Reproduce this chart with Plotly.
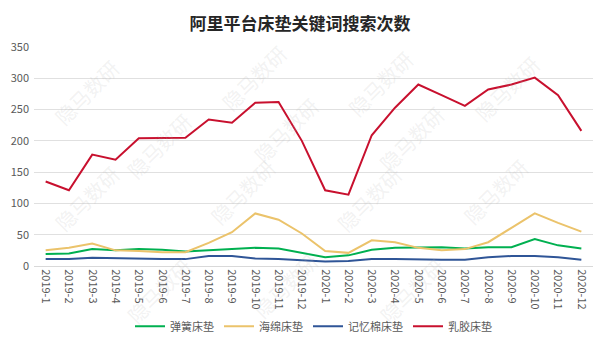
import plotly.graph_objects as go

months = ["2019-1","2019-2","2019-3","2019-4","2019-5","2019-6","2019-7","2019-8","2019-9","2019-10","2019-11","2019-12",
          "2020-1","2020-2","2020-3","2020-4","2020-5","2020-6","2020-7","2020-8","2020-9","2020-10","2020-11","2020-12"]
spring = [19, 20, 27, 25, 27, 26, 23, 25, 26, 29, 28, 21,
          14, 17, 26, 29, 29, 30, 28, 30, 30, 43, 33, 28]
sponge = [25, 29, 36, 25, 24, 22, 22, 37, 54, 84, 74, 52,
          24, 21, 41, 38, 29, 25, 27, 38, 61, 84, 69, 55]
memory = [11, 11, 13, 12, 12, 11, 11, 16, 16, 12, 11, 9,
          7, 8, 11, 11, 10, 10, 10, 14, 16, 16, 14, 10]
latex = [135, 121, 178, 170, 204, 205, 205, 234, 229, 261, 262, 200,
         121, 114, 209, 253, 290, 273, 256, 282, 290, 301, 273, 216]

series = [("弹簧床垫", spring, "#00B050"),
          ("海绵床垫", sponge, "#EBC36B"),
          ("记忆棉床垫", memory, "#2F5597"),
          ("乳胶床垫", latex, "#C8102E")]

fig = go.Figure()
for name, vals, color in series:
    fig.add_trace(go.Scatter(x=months, y=vals, mode="lines", name=name,
                             line=dict(color=color, width=2)))

# watermark
wm_pos = [(0.02, 0.98), (0.32, 1.05), (0.62, 1.02), (0.92, 1.0),
          (0.15, 0.55), (0.45, 0.62), (0.75, 0.58),
          (0.02, 0.12), (0.30, 0.15), (0.60, 0.12), (0.90, 0.15),
          (0.15, -0.3), (0.45, -0.28), (0.75, -0.3)]
annotations = []
for (ax, ay) in wm_pos:
    annotations.append(dict(text="隐马数研", x=ax, y=ay, xref="paper", yref="paper",
                            showarrow=False, textangle=-45,
                            font=dict(size=20, color="rgba(180,180,180,0.18)",
                                      family="Noto Sans CJK SC")))

fig.update_layout(
    width=600, height=338,
    margin=dict(l=34, r=7, t=47, b=72, autoexpand=False),
    paper_bgcolor="white", plot_bgcolor="white",
    title=dict(text="<b>阿里平台床垫关键词搜索次数</b>", x=0.5, xanchor="center",
               y=0.93, yanchor="middle",
               font=dict(size=17, color="#262626", family="Noto Sans CJK SC")),
    font=dict(family="Noto Sans CJK SC", size=11, color="#595959"),
    xaxis=dict(type="category", range=[-0.5, len(months) - 0.5], tickangle=90,
               showgrid=False, showline=True,
               linecolor="#d9d9d9", automargin=False, tickmode="array",
               tickvals=months, ticktext=months,
               ticks="", tickfont=dict(size=11, color="#595959")),
    yaxis=dict(range=[0, 350], dtick=50, showgrid=True, gridcolor="#e0e0e0",
               zeroline=False, tickfont=dict(size=11, color="#595959"), ticks="",
               automargin=False, ticklabelstandoff=4),
    legend=dict(orientation="h", x=0.5, xanchor="center", y=-0.275, yanchor="middle",
                font=dict(size=11, color="#595959"), itemwidth=30,
                bgcolor="rgba(0,0,0,0)"),
    annotations=annotations,
    showlegend=True,
)

fig.write_html("out.html")
